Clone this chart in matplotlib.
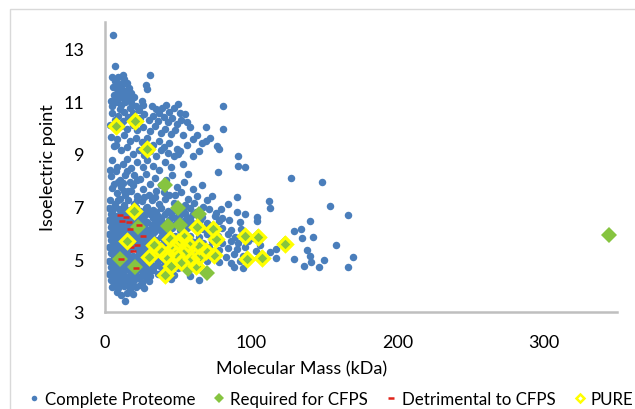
import matplotlib
matplotlib.use('Agg')
import matplotlib.pyplot as plt
from matplotlib.lines import Line2D
from matplotlib.patches import Rectangle

plt.rcParams['font.family'] = ['Lato', 'DejaVu Sans']

# (molecular mass kDa, isoelectric point)
proteome_high = [
    (5.2, 13.5), (6.8, 12.35), (31, 12.0), (12, 12.0), (4.5, 11.9), (7, 11.75), (9, 11.9),
    (10.5, 11.65), (13, 11.85), (15, 11.7), (5.5, 11.55), (8.5, 11.45), (11, 11.5), (14, 11.4),
    (16.5, 11.5), (6, 11.25), (9.5, 11.2), (12.5, 11.1), (15.5, 11.2), (18, 11.3), (28, 11.6),
    (29, 11.45), (20, 11.15), (25, 11.0), (26, 10.85), (4, 11.0), (7.5, 10.95), (11, 10.85),
    (14, 10.95), (17, 10.75), (21, 10.8), (23, 10.65), (32, 10.8), (35, 10.7), (37, 10.55),
    (39, 10.75), (42, 10.85), (44, 10.6), (47, 10.75), (49.6, 10.9), (51, 10.55), (55, 10.5),
    (56, 10.2), (81, 10.8), (5, 10.55), (9, 10.45), (13, 10.6), (16, 10.4), (19, 10.55),
    (24, 10.35), (27, 10.5), (30, 10.3), (33, 10.45), (36, 10.25), (40, 10.4), (43, 10.2),
    (46, 10.35), (49, 10.15), (52, 10.3), (58, 10.0), (69, 10.0), (81, 9.95), (3.5, 10.1),
    (11, 10.05), (15, 9.95), (19, 10.1), (22, 9.9), (26, 10.0), (31, 9.85), (34, 10.05),
    (38, 9.8), (41, 9.95), (45, 9.75), (48, 9.9), (53, 9.7), (63, 9.7), (69, 9.5), (78, 9.2),
    (76.5, 9.3), (4, 9.65), (8, 9.55), (13, 9.7), (17, 9.5), (21, 9.6), (25, 9.45), (29, 9.6),
    (33, 9.35), (37, 9.5), (40, 9.25), (44, 9.4), (49, 9.2), (56, 9.35), (60, 9.55), (66, 9.4),
    (72, 9.6), (6, 9.3), (7.5, 9.35), (11, 9.15), (15, 9.25), (19, 9.0), (23, 9.15), (27, 8.95),
    (31, 9.1), (35, 8.9), (38, 9.15), (43, 9.05), (47, 8.9), (50, 9.0), (51.5, 9.1), (60, 8.9),
    (64.5, 9.1), (91, 8.9), (12, 8.6), (5, 8.75), (8, 8.5), (15, 8.8), (18, 8.45), (22, 8.7),
    (26, 8.5), (29, 8.75), (33, 8.55), (37, 8.4), (41, 8.7), (45, 8.5), (53, 8.6), (91, 8.55),
    (96, 8.5), (3.5, 8.4),
    (6, 11.05), (8, 11.6), (10, 11.35), (12, 11.65), (14, 11.2), (16, 11.05), (8, 11.0),
    (5, 10.8), (10, 10.7), (18, 10.95), (7, 10.3), (12, 10.25),
]

proteome_mid = [
    (77, 8.3), (127, 8.1), (148, 7.94), (4, 8.15), (7.5, 8.35), (10, 8.0), (14, 8.2), (17, 7.95),
    (20, 8.2), (24, 8.05), (28, 8.25), (31, 7.85), (34, 8.1), (38, 7.8), (42, 8.0), (46, 8.2),
    (49, 7.75), (54, 7.95), (57, 8.25), (60, 7.65), (66, 7.8), (5, 7.7), (8, 7.5), (11, 7.75),
    (14, 7.45), (18, 7.6), (22, 7.4), (26, 7.65), (30, 7.45), (35, 7.6), (44, 7.45), (52, 7.55),
    (57, 7.3), (63, 7.4), (73, 7.4), (90, 7.37), (112, 7.2), (112.5, 6.95), (154, 7.03),
    (3.5, 7.25), (7, 7.1), (10, 7.3), (13, 7.05), (16, 7.25), (20, 7.1), (25, 7.2), (29, 7.0),
    (32, 7.25), (37, 7.1), (41, 7.3), (47, 7.15), (55, 7.05), (61, 7.15), (67, 7.0), (70, 7.25),
    (84, 7.1),
    (6, 7.85), (9, 7.95), (12, 7.9), (15, 8.35), (19, 7.8), (22, 8.0), (13, 7.6), (9, 7.25),
    (22, 7.25), (27, 7.35), (34, 7.35), (40, 7.55), (48, 7.45), (16, 7.6),
]

proteome_low = [
    (3, 6.95), (6, 7.0), (9.5, 6.9), (13, 6.97), (17, 6.88), (21, 6.98), (24, 6.85), (28, 6.93),
    (33, 6.87), (38, 6.95), (43, 6.84), (48, 6.9), (53, 6.86), (58, 6.95), (62, 6.8), (71, 6.9),
    (76, 6.75), (79, 6.9),
    (5, 6.82), (11, 6.8), (15, 6.84), (19, 6.78), (26, 6.8), (30, 6.84), (35, 6.78), (45, 6.76),
    (50, 6.8), (55, 6.76),
    (4, 6.72), (7.5, 6.65), (11, 6.75), (15, 6.7), (19, 6.62), (23, 6.74), (27, 6.66), (31, 6.72),
    (36, 6.64), (41, 6.7), (46, 6.6), (51, 6.68), (56, 6.62), (60, 6.72), (66, 6.6), (75, 6.66),
    (80, 6.55), (90, 6.8), (96, 6.72), (104, 6.6),
    (5.5, 6.58), (9, 6.56), (13, 6.6), (21, 6.55), (25, 6.58), (33, 6.57), (38, 6.56), (48, 6.55),
    (58, 6.55),
    (3, 6.48), (6, 6.42), (9, 6.5), (13, 6.44), (17, 6.52), (21, 6.4), (25, 6.47), (29, 6.41),
    (34, 6.5), (39, 6.43), (44, 6.48), (49, 6.4), (54, 6.46), (59, 6.42), (65, 6.5), (70, 6.38),
    (78, 6.45), (85, 6.5), (92, 6.42), (104, 6.46),
    (5, 6.33), (7.5, 6.3), (11, 6.36), (15, 6.32), (19, 6.35), (27, 6.33), (32, 6.3), (37, 6.34),
    (47, 6.31), (57, 6.3),
    (4, 6.22), (8, 6.18), (11.5, 6.25), (15, 6.15), (19, 6.22), (23, 6.17), (27, 6.24), (31, 6.16),
    (36, 6.21), (41, 6.14), (46, 6.2), (51, 6.12), (56, 6.18), (61, 6.24), (67, 6.15), (72, 6.05),
    (80, 6.2), (86, 6.1), (93, 6.15), (129, 6.07),
    (6, 6.07), (9.5, 6.1), (13, 6.05), (17, 6.08), (21, 6.03), (25, 6.1), (29, 6.04), (34, 6.08),
    (39, 6.02), (44, 6.06), (54, 6.04),
    (3, 5.95), (6.5, 5.9), (10, 5.98), (13.5, 5.92), (17, 5.97), (21, 5.88), (25, 5.96), (29, 5.9),
    (33, 5.98), (38, 5.86), (43, 5.94), (48, 5.88), (53, 5.96), (58, 5.9), (64, 5.85), (70, 5.95),
    (77, 5.88), (84, 5.95), (89, 5.85), (95, 5.92), (101, 5.8),
    (5, 5.82), (8.5, 5.8), (12, 5.84), (16, 5.8), (23, 5.82), (27, 5.78), (32, 5.8), (41, 5.79),
    (47, 5.8),
    (4, 5.72), (7.5, 5.66), (11, 5.74), (15, 5.68), (19, 5.76), (23, 5.65), (27, 5.72), (31, 5.66),
    (35, 5.74), (40, 5.64), (45, 5.7), (50, 5.63), (55, 5.72), (61, 5.66), (67, 5.6), (73, 5.7),
    (80, 5.62), (86, 5.7), (91, 5.6), (98, 5.68), (106, 5.55), (117, 5.4),
    (6, 5.58), (9, 5.55), (13, 5.6), (17, 5.57), (21, 5.54), (25, 5.58), (29, 5.56), (37, 5.56),
    (42, 5.55),
    (3, 5.45), (6, 5.5), (9.5, 5.42), (13, 5.48), (17, 5.4), (21, 5.46), (25, 5.38), (29, 5.47),
    (34, 5.4), (39, 5.48), (44, 5.38), (49, 5.44), (54, 5.36), (59, 5.46), (65, 5.38), (71, 5.45),
    (78, 5.35), (84, 5.44), (90, 5.38), (96, 5.46), (103, 5.3), (113, 5.28),
    (5.5, 5.33), (9, 5.3), (12.5, 5.35), (16, 5.3), (23, 5.32), (27, 5.28), (31, 5.33), (36, 5.3),
    (45, 5.3),
    (4, 5.22), (7.5, 5.16), (11, 5.24), (15, 5.18), (19, 5.12), (23, 5.2), (27, 5.14), (32, 5.22),
    (37, 5.12), (42, 5.2), (47, 5.1), (52, 5.18), (57, 5.12), (63, 5.2), (69, 5.1), (76, 5.18),
    (83, 5.08), (88, 5.2), (94, 5.12), (117, 5.05),
    (6, 5.07), (9, 5.05), (13, 5.09), (17, 5.04), (21, 5.07), (25, 5.04), (29, 5.08), (34, 5.03),
    (39, 5.05), (45, 5.02), (55, 5.03),
    (3, 4.95), (6.5, 4.9), (10, 4.98), (14, 4.88), (18, 4.96), (22, 4.9), (26, 4.98), (31, 4.87),
    (36, 4.95), (41, 4.86), (46, 4.94), (51, 4.85), (57, 4.92), (63, 4.86), (70, 4.95), (78, 4.9),
    (86, 4.85), (92, 4.92), (129, 5.0),
    (5.5, 4.82), (9, 4.8), (13, 4.84), (17, 4.8), (21, 4.78), (25, 4.82), (30, 4.8), (35, 4.78),
    (43, 4.8),
    (4, 4.72), (7.5, 4.66), (11, 4.74), (15, 4.62), (19, 4.7), (23, 4.64), (28, 4.72), (33, 4.6),
    (38, 4.7), (44, 4.62), (50, 4.68), (56, 4.58), (63, 4.66), (88, 4.72), (94, 4.68),
    (5.5, 4.57), (9, 4.55), (13, 4.6), (17, 4.56), (21, 4.54), (25, 4.58), (30, 4.52), (41, 4.55),
    (3, 4.45), (6.5, 4.4), (10, 4.48), (14, 4.38), (18, 4.46), (22, 4.36), (26, 4.44), (31, 4.38),
    (36, 4.46), (47, 4.4), (58, 4.35),
    (6, 4.32), (10, 4.3), (14, 4.28), (18, 4.33), (23, 4.3), (28, 4.28),
    (4, 4.22), (8, 4.16), (12, 4.24), (16, 4.12), (20, 4.2), (25, 4.1), (30, 4.18), (45, 4.25),
    (64, 4.2),
    (6.5, 4.06), (11, 4.05), (15, 4.08), (19, 4.04), (24, 4.02),
    (5, 3.95), (9, 3.9), (13, 3.98), (17, 3.88), (21, 3.95), (27, 3.9),
    (8, 3.76), (11, 3.65), (15, 3.72), (19, 3.68), (14, 3.42),
]

proteome_tail = [
    (134, 6.15), (135, 5.8), (142.5, 5.85), (158, 5.55), (138, 5.36), (140, 5.13), (169.5, 5.1),
    (141, 4.9), (136, 4.75), (150, 4.98), (146, 4.7), (166, 4.7), (140, 6.46), (166, 6.69),
]

required_only = [
    (40.7, 7.8), (50, 6.96), (64, 6.72), (22.6, 6.22), (43, 6.28), (51, 6.3), (10.3, 5.0),
    (20.3, 4.72), (56.6, 4.64), (70, 4.48), (344.5, 5.93),
]

pure = [
    (7.5, 10.05), (20.3, 10.25), (28.7, 9.2), (19.8, 6.85), (14.7, 5.7), (33.3, 5.53), (30.3, 5.08),
    (40.8, 4.4), (44.5, 5.78), (49.7, 5.65), (54, 5.84), (63, 6.22), (74, 6.16), (75.7, 5.76),
    (74.8, 5.16), (96, 5.9), (104.3, 5.84), (97, 5.0), (107, 5.04), (123.3, 5.58), (41.8, 5.14),
    (48.5, 5.2), (55.4, 5.33), (58.8, 5.0), (64.4, 5.08), (64.4, 5.52), (56.5, 5.58), (47.5, 5.46),
    (38.4, 5.33), (69, 5.33), (52, 4.89), (62, 4.76), (45, 4.76),
]

detrimental = [
    (10.2, 6.68), (14.2, 6.6), (11.3, 6.47), (16.5, 6.42), (23, 6.3), (17, 6.15), (26, 5.9),
    (22, 5.55), (18, 5.46), (19, 5.3), (11, 5.0), (21, 4.68),
]

x_ticks = [0, 100, 200, 300]
y_ticks = [3, 5, 7, 9, 11, 13]

blue = '#4A7EBB'
green = '#86C440'
yellow = '#FFFF00'
red = '#E0241B'

proteome = proteome_high + proteome_mid + proteome_low + proteome_tail
required = required_only + pure

fig = plt.figure(figsize=(6.35, 4.1), dpi=100)
ax = fig.add_axes([105 / 635, 1 - 313 / 410, 512 / 635, 290 / 410])

ax.plot([p[0] for p in proteome], [p[1] for p in proteome], 'o', color=blue,
        markersize=5.4, markeredgewidth=0, zorder=2, clip_on=False)
ax.plot([p[0] for p in required], [p[1] for p in required], 'D', color=green,
        markersize=7.8, markeredgewidth=0, zorder=3, clip_on=False)
ax.plot([p[0] for p in detrimental], [p[1] for p in detrimental], '_', color=red,
        markersize=5, markeredgewidth=1.8, zorder=4)
ax.plot([p[0] for p in pure], [p[1] for p in pure], 'D', markerfacecolor='none',
        markeredgecolor=yellow, markersize=7.4, markeredgewidth=2.3, zorder=5, clip_on=False)

ax.set_xlim(0, 350)
ax.set_ylim(3, 14)
ax.set_xticks(x_ticks)
ax.set_yticks(y_ticks)
ax.tick_params(length=0, labelsize=13, colors='black')
ax.tick_params(axis='y', pad=15)
ax.tick_params(axis='x', pad=16)
for s in ['top', 'right']:
    ax.spines[s].set_visible(False)
for s in ['left', 'bottom']:
    ax.spines[s].set_color('#BFBFBF')
    ax.spines[s].set_linewidth(1.8)

ax.set_xlabel('Molecular Mass (kDa)', fontsize=13)
ax.xaxis.set_label_coords(0.383, -0.165)
ax.set_ylabel('Isoelectric point', fontsize=13)
ax.yaxis.set_label_coords(-0.095, 0.5)

handles = [
    Line2D([], [], marker='o', color=blue, linestyle='none', markersize=4, markeredgewidth=0),
    Line2D([], [], marker='D', color=green, linestyle='none', markersize=5, markeredgewidth=0),
    Line2D([], [], marker='_', color=red, linestyle='none', markersize=5, markeredgewidth=1.8),
    Line2D([], [], marker='D', markerfacecolor='none', markeredgecolor=yellow, linestyle='none',
           markersize=4.5, markeredgewidth=1.8),
]
labels = ['Complete Proteome', 'Required for CFPS', 'Detrimental to CFPS', 'PURE']
fig.legend(handles, labels, loc='center left', bbox_to_anchor=(0.045, 10 / 410), ncol=4,
           frameon=False, fontsize=12.2, handlelength=0.6, handletextpad=0.35,
           columnspacing=1.1, borderaxespad=0, borderpad=0)

fig.add_artist(Rectangle((10 / 635, -0.2), 1.2, 1.2 - 10 / 410, transform=fig.transFigure,
                         fill=False, edgecolor='#D9D9D9', linewidth=1))

fig.savefig('out.png', dpi=100)
